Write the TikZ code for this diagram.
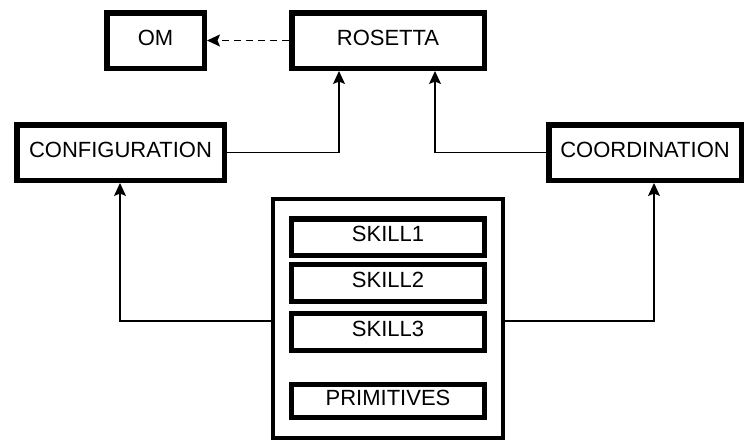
\documentclass[tikz,border=0pt]{standalone}
\usepackage{fontspec}
\setmainfont{Liberation Sans}
\usetikzlibrary{arrows.meta}
\begin{document}
\begin{tikzpicture}[x=1pt,y=-1pt,
  font=\fontsize{22}{24}\selectfont,
  box/.style={draw=black, line width=5.5pt, fill=white, inner sep=0pt,
    text height=16pt, text depth=6.4pt},
  bigbox/.style={draw=black, line width=4pt, fill=white, inner sep=0pt},
  link/.style={draw=black, line width=1.3pt, -{Stealth[length=13pt,width=12pt,inset=2.5pt]}},
  dlink/.style={link, dash pattern=on 7pt off 5pt}
]
\useasboundingbox (0,0) rectangle (746,442);
% top row
\node[box, minimum width=97.5pt, minimum height=55.5pt] (om) at (155.5,40.5) {OM};
\node[box, minimum width=192.5pt, minimum height=55.5pt] (ros) at (388,40.5) {ROSETTA};
% middle row
\node[box, minimum width=207.5pt, minimum height=55.5pt] (conf) at (120.5,152.5) {CONFIGURATION};
\node[box, minimum width=192.5pt, minimum height=55.5pt] (coord) at (645,152.5) {COORDINATION};
% big container
\node[bigbox, minimum width=230pt, minimum height=239pt] (big) at (388,318.5) {};
\node[box, minimum width=193pt, minimum height=36.5pt] (s1) at (388,237) {SKILL1};
\node[box, minimum width=193pt, minimum height=37pt] (s2) at (388,283) {SKILL2};
\node[box, minimum width=193pt, minimum height=37pt] (s3) at (388,332) {SKILL3};
\node[box, minimum width=193pt, minimum height=33pt] (prim) at (388,401) {PRIMITIVES};
% connectors
\draw[dlink] (ros.west) -- (om.east);
\draw[link] (conf.east) -| ([xshift=-49pt]ros.south);
\draw[link] (coord.west) -| ([xshift=47pt]ros.south);
\coordinate (bl) at (big.west |- 0,321);
\coordinate (br) at (big.east |- 0,321);
\draw[link] (bl) -| ([xshift=-0.5pt]conf.south);
\draw[link] (br) -| ([xshift=9pt]coord.south);
\end{tikzpicture}
\end{document}
